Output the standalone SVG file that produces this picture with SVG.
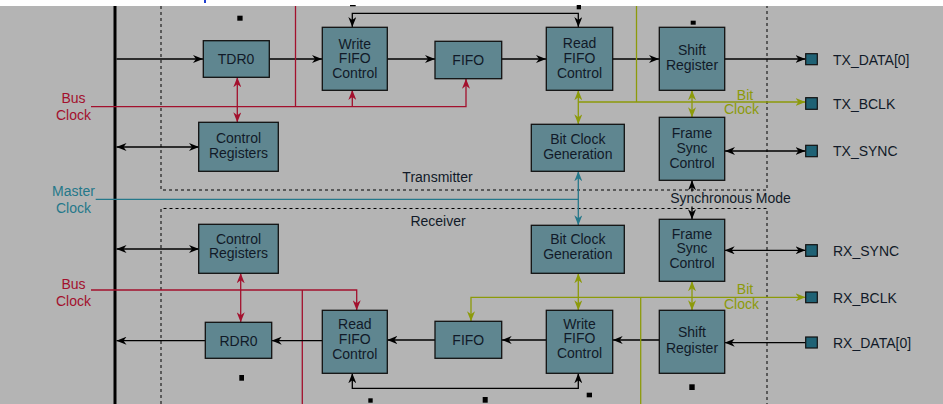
<svg xmlns="http://www.w3.org/2000/svg" width="943" height="404" viewBox="0 0 943 404">
<style>
.node rect{fill:#5f8690;stroke:#111;stroke-width:1.3}
.node text,.lbl{font-family:"Liberation Sans",Arial,sans-serif;font-size:14px;fill:#111a28;text-anchor:middle}
.pin rect{fill:#1f6275;stroke:#111;stroke-width:1.2}
.pin text{font-family:"Liberation Sans",Arial,sans-serif;font-size:14px;fill:#111a28}
.k{stroke:#000;stroke-width:1.3;fill:none}
.r{stroke:#a3102d;stroke-width:1.3;fill:none}
.o{stroke:#8c9a0a;stroke-width:1.3;fill:none}
.t{stroke:#25788a;stroke-width:1.3;fill:none}
.dash{stroke:#000;stroke-width:1;stroke-dasharray:3 3;fill:none}
.ka{marker-end:url(#ak)}
.kaa{marker-start:url(#ak);marker-end:url(#ak)}
.ra{marker-end:url(#ar)}
.raa{marker-start:url(#ar);marker-end:url(#ar)}
.oa{marker-end:url(#ao)}
.oaa{marker-start:url(#ao);marker-end:url(#ao)}
.taa{marker-start:url(#at);marker-end:url(#at)}
.sq{fill:#000}
</style>
<defs>
<marker id="ak" viewBox="0 0 10 8" refX="10" refY="4" markerWidth="10" markerHeight="8" markerUnits="userSpaceOnUse" orient="auto-start-reverse"><path d="M0,0 L10,4 L0,8 L3,4 z" fill="#000"/></marker>
<marker id="ar" viewBox="0 0 10 8" refX="10" refY="4" markerWidth="10" markerHeight="8" markerUnits="userSpaceOnUse" orient="auto-start-reverse"><path d="M0,0 L10,4 L0,8 L3,4 z" fill="#a3102d"/></marker>
<marker id="ao" viewBox="0 0 10 8" refX="10" refY="4" markerWidth="10" markerHeight="8" markerUnits="userSpaceOnUse" orient="auto-start-reverse"><path d="M0,0 L10,4 L0,8 L3,4 z" fill="#8c9a0a"/></marker>
<marker id="at" viewBox="0 0 10 8" refX="10" refY="4" markerWidth="10" markerHeight="8" markerUnits="userSpaceOnUse" orient="auto-start-reverse"><path d="M0,0 L10,4 L0,8 L3,4 z" fill="#25788a"/></marker>
</defs>
<rect x="0" y="0" width="943" height="404" fill="#b4b4b4"/>
<rect x="0" y="0" width="943" height="6" fill="#fff"/>
<rect x="204" y="0" width="2" height="3" fill="#1f3fd0"/>

<g id="frames">
<path class="dash" d="M161,6 V190 H767 V6"/>
<path class="dash" d="M161,404 V208.5 H767 V404"/>
</g>

<g id="labels">
<text class="lbl" x="437.5" y="182">Transmitter</text>
<text class="lbl" x="438" y="226">Receiver</text>
<text class="lbl" x="73.5" y="103" style="fill:#a3102d">Bus</text>
<text class="lbl" x="73.5" y="120" style="fill:#a3102d">Clock</text>
<text class="lbl" x="73.5" y="196" style="fill:#25788a">Master</text>
<text class="lbl" x="73.5" y="213" style="fill:#25788a">Clock</text>
<text class="lbl" x="73.5" y="289" style="fill:#a3102d">Bus</text>
<text class="lbl" x="73.5" y="306" style="fill:#a3102d">Clock</text>
<text class="lbl" x="745" y="100" style="fill:#8c9a0a">Bit</text>
<text class="lbl" x="741.5" y="114" style="fill:#8c9a0a">Clock</text>
<text class="lbl" x="745" y="294" style="fill:#8c9a0a">Bit</text>
<text class="lbl" x="741.5" y="309" style="fill:#8c9a0a">Clock</text>
</g>

<g id="connectors">
<path d="M115,6 V404" stroke="#000" stroke-width="3" fill="none"/>
<path class="k ka" d="M116.5,59 H203"/>
<path class="k ka" d="M269,59 H322"/>
<path class="k ka" d="M387,59 H435"/>
<path class="k ka" d="M502,59 H546"/>
<path class="k ka" d="M612,59 H659"/>
<path class="k ka" d="M725,59 H805.5"/>
<path class="k kaa" d="M116.5,147 H199"/>
<path class="k kaa" d="M352.3,27 V13.3 H578.3 V27"/>
<path class="k kaa" d="M725,151 H805.5"/>
<path class="r" d="M295.5,6 V106.7"/>
<path class="r ra" d="M91,106.7 H466 V78.7"/>
<path class="r ra" d="M352.3,106.7 V90"/>
<path class="r raa" d="M237.3,77.3 V122.3"/>
<path class="o" d="M636.5,6 V102"/>
<path class="o oa" d="M578.3,102 H805.5"/>
<path class="o oaa" d="M578.3,90.3 V124.3"/>
<path class="o oaa" d="M692,90.3 V117.3"/>
<path class="t" d="M95.7,199.3 H578.3"/>
<path class="t taa" d="M578.3,171.3 V225.3"/>
<path class="k kaa" d="M692,180.3 V219.3"/>
<path class="k kaa" d="M116.5,249 H199"/>
<path class="r" d="M302.3,290 V404"/>
<path class="r ra" d="M91,290 H356.7 V310.3"/>
<path class="r raa" d="M240.7,273.3 V322.3"/>
<path class="k ka" d="M205,340.7 H116.5"/>
<path class="k ka" d="M322,340.7 H271.7"/>
<path class="k ka" d="M435,340 H387.3"/>
<path class="k ka" d="M546,340 H501.7"/>
<path class="k ka" d="M659,340 H612.7"/>
<path class="k ka" d="M805.5,342.7 H724.7"/>
<path class="k kaa" d="M724.7,250.3 H805.5"/>
<path class="k kaa" d="M352.3,373.3 V388.3 H578.3 V373.3"/>
<path class="o oaa" d="M471,321.3 V297.3 H805.5"/>
<path class="o" d="M640.7,297.3 V404"/>
<path class="o oaa" d="M578.3,273.3 V310.3"/>
<path class="o oaa" d="M692,281.3 V310.3"/>
</g>

<g id="sync-label">
<rect x="667" y="191.5" width="127" height="15" fill="#b4b4b4"/>
<text class="lbl" x="730.5" y="203">Synchronous Mode</text>
</g>

<g id="tdr0" class="node"><rect x="203.3" y="40.7" width="66" height="36.6"/><text x="236" y="64">TDR0</text></g>
<g id="tx-control-registers" class="node"><rect x="198.7" y="122.3" width="79.6" height="49"/><text x="238.5" y="142.5">Control</text><text x="238.5" y="158">Registers</text></g>
<g id="tx-write-fifo-control" class="node"><rect x="322.3" y="27.3" width="65" height="63"/><text x="354.8" y="48.5">Write</text><text x="354.8" y="63">FIFO</text><text x="354.8" y="77.5">Control</text></g>
<g id="tx-fifo" class="node"><rect x="435" y="41.3" width="66.7" height="37.4"/><text x="468.3" y="64.5">FIFO</text></g>
<g id="tx-read-fifo-control" class="node"><rect x="546.3" y="27.3" width="66.4" height="63"/><text x="579.5" y="48">Read</text><text x="579.5" y="62.5">FIFO</text><text x="579.5" y="78">Control</text></g>
<g id="tx-bit-clock-generation" class="node"><rect x="531.3" y="124.3" width="93" height="47"/><text x="577.8" y="143.5">Bit Clock</text><text x="577.8" y="159">Generation</text></g>
<g id="tx-shift-register" class="node"><rect x="659.3" y="27.3" width="65.4" height="63"/><text x="692" y="54.5">Shift</text><text x="692" y="70">Register</text></g>
<g id="tx-frame-sync-control" class="node"><rect x="659.3" y="117.3" width="65.4" height="63"/><text x="692" y="137.5">Frame</text><text x="692" y="152.5">Sync</text><text x="692" y="168">Control</text></g>

<g id="rx-control-registers" class="node"><rect x="198.7" y="224.3" width="79.6" height="49"/><text x="238.5" y="243.5">Control</text><text x="238.5" y="258">Registers</text></g>
<g id="rdr0" class="node"><rect x="205.3" y="322.3" width="66.4" height="36"/><text x="238.5" y="346">RDR0</text></g>
<g id="rx-read-fifo-control" class="node"><rect x="322.3" y="310.3" width="65" height="63"/><text x="354.8" y="328.5">Read</text><text x="354.8" y="343.5">FIFO</text><text x="354.8" y="359">Control</text></g>
<g id="rx-fifo" class="node"><rect x="435" y="321.3" width="66.7" height="37"/><text x="468.3" y="345">FIFO</text></g>
<g id="rx-write-fifo-control" class="node"><rect x="546.3" y="310.3" width="66.4" height="63"/><text x="579.5" y="328.5">Write</text><text x="579.5" y="343">FIFO</text><text x="579.5" y="357.5">Control</text></g>
<g id="rx-bit-clock-generation" class="node"><rect x="531.3" y="225.3" width="93" height="48"/><text x="577.8" y="244">Bit Clock</text><text x="577.8" y="259">Generation</text></g>
<g id="rx-frame-sync-control" class="node"><rect x="659.3" y="219.3" width="65.4" height="62"/><text x="692" y="238.5">Frame</text><text x="692" y="253">Sync</text><text x="692" y="268">Control</text></g>
<g id="rx-shift-register" class="node"><rect x="659.3" y="310.3" width="65.4" height="63"/><text x="692" y="337">Shift</text><text x="692" y="352.5">Register</text></g>

<g id="pin-tx-data" class="pin"><rect x="805.7" y="53.7" width="11.6" height="11"/><text x="833" y="65">TX_DATA[0]</text></g>
<g id="pin-tx-bclk" class="pin"><rect x="805.7" y="97.7" width="11.6" height="11.6"/><text x="833" y="108.5">TX_BCLK</text></g>
<g id="pin-tx-sync" class="pin"><rect x="805.7" y="145.3" width="11.6" height="11.4"/><text x="833" y="156">TX_SYNC</text></g>
<g id="pin-rx-sync" class="pin"><rect x="805.7" y="244.7" width="11.6" height="11.6"/><text x="833" y="255.5">RX_SYNC</text></g>
<g id="pin-rx-bclk" class="pin"><rect x="805.7" y="292" width="11.6" height="10.7"/><text x="833" y="302.5">RX_BCLK</text></g>
<g id="pin-rx-data" class="pin"><rect x="805.7" y="337" width="11.6" height="11"/><text x="833" y="348">RX_DATA[0]</text></g>

<g id="marks">
<rect class="sq" x="237.3" y="15.7" width="5.3" height="5"/>
<rect class="sq" x="690.7" y="20.7" width="5" height="4"/>
<rect class="sq" x="576.7" y="5" width="4.3" height="4.3"/>
<rect class="sq" x="350" y="5" width="5.7" height="1.3"/>
<rect class="sq" x="239.3" y="375" width="4.7" height="5.7"/>
<rect class="sq" x="368.3" y="398.3" width="4.4" height="4.4"/>
<rect class="sq" x="482.7" y="397" width="5" height="5.7"/>
<rect class="sq" x="586.7" y="392.7" width="5.3" height="4.6"/>
<rect class="sq" x="689.3" y="384.3" width="5.4" height="5.7"/>
</g>
</svg>
